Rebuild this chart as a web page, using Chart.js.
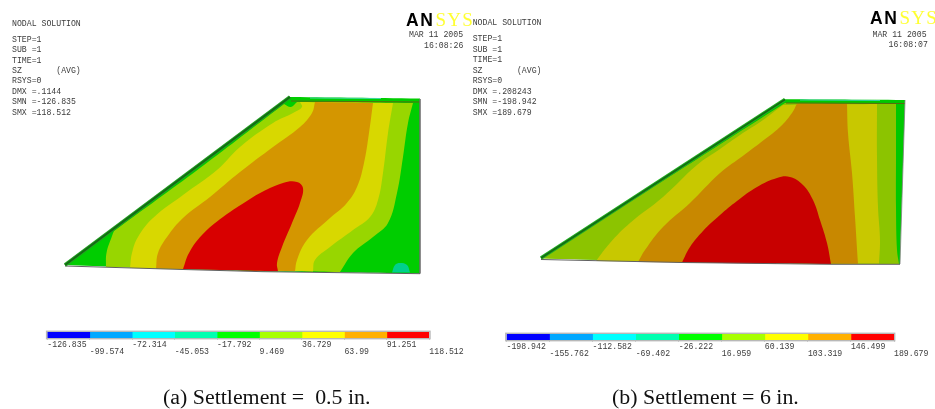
<!DOCTYPE html>
<html>
<head>
<meta charset="utf-8">
<script src="https://cdn.jsdelivr.net/npm/chart.js@4"></script>
<style>
body { margin:0; background:#fff; width:935px; height:409px; overflow:hidden; position:relative; }
canvas { position:absolute; }
.t { position:absolute; font:8.2px "Liberation Mono",monospace; color:#3c3c3c; white-space:pre; line-height:10px; filter:blur(.25px); }
.cap { position:absolute; font:21.9px "Liberation Serif",serif; color:#111; white-space:pre; line-height:24px; }
.an { position:absolute; font:bold 17.5px "Liberation Sans",sans-serif; color:#000; line-height:18px; white-space:pre; letter-spacing:1.6px; }
.an span { font:normal 19px "Liberation Serif",serif; color:#ffff33; letter-spacing:1.2px; margin-left:1px; }
</style>
</head>
<body>
<canvas id="contours" width="935" height="409" style="left:0;top:0;filter:blur(.3px)"></canvas>
<canvas id="barA" width="430" height="34" style="left:40px;top:329px"></canvas>
<canvas id="barB" width="440" height="34" style="left:495px;top:331px"></canvas>
<script>
// colour bar levels
var levels_a = ['-126.835','-99.574','-72.314','-45.053','-17.792','9.469','36.729','63.99','91.251','118.512'];
var levels_b = ['-198.942','-155.762','-112.582','-69.402','-26.222','16.959','60.139','103.319','146.499','189.679'];
var bar_colors = ['#0000ff','#00a8ff','#00ffff','#00ffb0','#00ff00','#a8ff00','#ffff00','#ffb000','#ff0000'];

var info_a = ['STEP=1','SUB =1','TIME=1','SZ       (AVG)','RSYS=0','DMX =.1144','SMN =-126.835','SMX =118.512'];
var info_b = ['STEP=1','SUB =1','TIME=1','SZ       (AVG)','RSYS=0','DMX =.208243','SMN =-198.942','SMX =189.679'];

// contour bands, a third element marks a sharp corner
// panel (a)
var outline_a = [[65,265,1],[290,97,1],[420,98.5,1],[420,273.5,1],[263,271.5,1],[183,269.3,1]];
var lime_a = [[106,267,1],[106.5,253],[112,236],[114,231,1],[200,168],[284,104,1],[291,107],[297,102,1],[413,103,1],[408,123],[403,157],[397,193],[388,223],[373,237],[353,253],[340,272,1],[263,270.5,1],[183,268.5,1]];
var yellow_a = [[130,268,1],[132,253],[138,237],[153,218],[183,195],[217,170],[240,147],[273,123],[293,113],[302,107],[300,102,1],[393,103,1],[388,133],[383,173],[378,200],[370,217],[353,230],[330,247],[315,260],[313,271.5,1],[230,269.8,1]];
var orange_a = [[156,268.5,1],[158,253],[167,237],[183,218],[210,197],[240,172],[273,147],[300,127],[312,113],[315,102,1],[373,103,1],[369,133],[364,163],[357,187],[346,204],[330,218],[307,240],[297,260],[295,271.3,1],[230,270,1]];
var red_a = [[183,269,1],[189,253],[202,235],[223,217],[250,199],[262,192],[283,183],[297,182],[303,188],[300,203],[292,223],[282,247],[277,263],[278,271.3,1],[230,270.2,1]];
var teal_a = [[392,272.5,1],[395,265],[400,263],[407,265],[410,272.5,1]];
var diag_a = [[65,265],[290,97]];
var top_a = [[291,101],[420,102]];
var speck_a = [[310,98],[381,98.5]];
var right_a = [[420,99],[420,273.5]];
var bottom_a = [[65,266],[183,269.5],[263,271.7],[420,273.7]];

// panel (b)
var outline_b = [[541,258,1],[785,99.3,1],[905,100,1],[900,264,1],[830,264,1],[682,262.3,1]];
var lime_b = [[541,258.5,1],[785,103,1],[896,104,1],[896,157],[896,207],[897,250],[899,264,1],[830,264,1],[682,262,1]];
var yellow_b = [[596,261,1],[610,243],[630,223],[663,197],[697,165],[720,149],[740,135],[763,120],[783,105,1],[877,104,1],[877,157],[878,207],[880,240],[879,263.5,1],[740,263,1]];
var orange_b = [[638,262,1],[645,250],[663,227],[690,203],[720,173],[740,158],[760,143],[780,127],[792,113],[797,103.5,1],[847,104,1],[848,133],[852,173],[855,217],[858,263.8,1],[750,263,1]];
var red_b = [[682,262.5,1],[690,247],[703,231],[720,215],[737,201],[757,187],[777,178],[790,177],[803,185],[813,200],[820,220],[827,243],[831,264,1],[760,263.5,1]];
var diag_b = [[541,258],[785,99.5]];
var top_b = [[786,103],[905,103.5]];
var speck_b = [[800,100],[880,100.5]];
var right_b = [[905,100],[900,264]];
var bottom_b = [[541,259.5],[682,262.5],[830,264.3],[900,264.3]];

function pts(list) {
    var out = [];
    list.forEach(function (p) {
        out.push({x: p[0], y: p[1]});
        if (p[2]) out.push({x: p[0], y: p[1]});
    });
    return out;
}
function band(list, color) {
    return {data: pts(list), showLine: true, fill: 'shape', backgroundColor: color, borderWidth: 0, pointRadius: 0, tension: 0.4, capBezierPoints: false};
}
function stroke(list, color, width) {
    return {data: pts(list), showLine: true, fill: false, borderColor: color, borderWidth: width, pointRadius: 0, tension: 0};
}

// bottom to top, reversed below because the first dataset is drawn last
var layers = [
    band(outline_a, '#00cd00'), band(lime_a, '#98d600'), band(yellow_a, '#d8d800'), band(orange_a, '#d49600'), band(red_a, '#d80000'), band(teal_a, '#00d08c'),
    stroke(speck_a, '#40d8a0', 1.2), stroke(top_a, '#5a6a10', 1), stroke(right_a, '#707070', 0.8), stroke(bottom_a, '#606060', 1),
    stroke(diag_a, '#22a022', 3.6), stroke(diag_a, '#146a14', 1.8),
    band(outline_b, '#00c800'), band(lime_b, '#8cc400'), band(yellow_b, '#c8c800'), band(orange_b, '#c88800'), band(red_b, '#c80000'),
    stroke(speck_b, '#30d0a0', 1.2), stroke(top_b, '#5a6a10', 1), stroke(right_b, '#808080', 0.8), stroke(bottom_b, '#606060', 1),
    stroke(diag_b, '#22b022', 3.6), stroke(diag_b, '#146a14', 1.5)
];

new Chart(document.getElementById('contours'), {
    type: 'scatter',
    data: {datasets: layers.slice().reverse()},
    options: {
        responsive: false,
        animation: false,
        plugins: {legend: {display: false}, tooltip: {enabled: false}},
        scales: {
            x: {type: 'linear', display: false, min: 0, max: 935},
            y: {type: 'linear', display: false, min: 0, max: 409, reverse: true}
        }
    }
});

var frame_plugin = {
    id: 'frame',
    afterDatasetsDraw: function (chart) {
        var a = chart.chartArea, ctx = chart.ctx;
        ctx.save();
        ctx.strokeStyle = '#b8b8b8';
        ctx.lineWidth = 1.4;
        ctx.strokeRect(a.left - 0.7, a.top - 0.7, a.right - a.left + 1.4, a.bottom - a.top + 1.4);
        ctx.restore();
    }
};

function colorBar(id, levels, padLeft, padRight) {
    var nums = levels.map(Number);
    var sets = bar_colors.map(function (c, i) {
        return {data: [[nums[i], nums[i + 1]]], backgroundColor: c, grouped: false, barPercentage: 1, categoryPercentage: 1, borderSkipped: false};
    });
    new Chart(document.getElementById(id), {
        type: 'bar',
        data: {labels: ['SZ'], datasets: sets},
        plugins: [frame_plugin],
        options: {
            indexAxis: 'y',
            responsive: false,
            animation: false,
            layout: {padding: {left: padLeft, right: padRight, top: 3, bottom: 0}},
            plugins: {legend: {display: false}, tooltip: {enabled: false}},
            scales: {
                y: {display: false},
                x: {
                    type: 'linear',
                    min: nums[0],
                    max: nums[nums.length - 1],
                    border: {display: false},
                    grid: {drawOnChartArea: false, color: '#d0d0d0', tickLength: 2},
                    afterBuildTicks: function (scale) {
                        scale.ticks = nums.map(function (v) { return {value: v}; });
                    },
                    afterFit: function (scale) {
                        scale.paddingLeft = 0;
                        scale.paddingRight = 0;
                        scale.height = 25;
                    },
                    ticks: {
                        autoSkip: false,
                        maxRotation: 0,
                        align: 'start',
                        padding: 1,
                        color: '#3c3c3c',
                        font: {family: 'Liberation Mono', size: 8.2, lineHeight: 0.9},
                        callback: function (v, i) {
                            return i % 2 == 0 ? [levels[i], ''] : ['', levels[i]];
                        }
                    }
                }
            }
        }
    });
}
colorBar('barA', levels_a, 7.3, 40.7);
colorBar('barB', levels_b, 11.5, 41);

// ANSYS annotation text
function addText(cls, html, left, top) {
    var d = document.createElement('div');
    d.className = cls;
    d.innerHTML = html;
    d.style.left = left + 'px';
    d.style.top = top + 'px';
    document.body.appendChild(d);
}
function infoBlock(x, titleY, firstY, step, lines) {
    addText('t', 'NODAL SOLUTION', x, titleY - 5);
    lines.forEach(function (s, i) { addText('t', s, x, firstY + i * step - 5); });
}
infoBlock(12, 23.7, 39.7, 10.43, info_a);
infoBlock(472.7, 22.7, 39, 10.5, info_b);
addText('t', 'MAR 11 2005', 409, 30.3);
addText('t', '16:08:26', 424, 41);
addText('t', 'MAR 11 2005', 872.5, 29.7);
addText('t', '16:08:07', 888.5, 40);
addText('an', 'AN<span>SYS</span>', 406, 9);
addText('an', 'AN<span>SYS</span>', 870, 7);
addText('cap', '(a) Settlement =  0.5 in.', 163, 385);
addText('cap', '(b) Settlement = 6 in.', 612, 385);
</script>
</body>
</html>
